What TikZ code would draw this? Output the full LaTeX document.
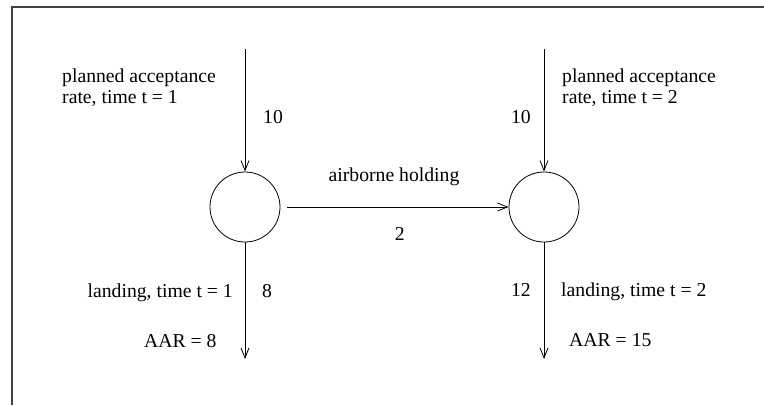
\documentclass[tikz,border=0pt]{standalone}
\usepackage{fontspec}
\setmainfont{Liberation Serif}
\usepackage{tikz}
\usetikzlibrary{arrows.meta, positioning}
\tikzset{
  place/.style={circle, draw=black, minimum size=70pt, inner sep=0pt, line width=0.8pt},
  txt/.style={inner sep=0pt, font=\fontsize{19.7}{20.7}\selectfont},
  arrowline/.style={-{Straight Barb[length=10pt, width=8pt, line width=0.8pt]}, line width=0.8pt},
}

\begin{document}
\begin{tikzpicture}[x=1pt, y=-1pt]
\useasboundingbox (0,0) rectangle (764,405);
\draw[black!75, line width=1.3pt] (12,405) -- (12,7) -- (764,7);

\node[place] (n1) at (245,207) {};
\node[place] (n2) at (544,207) {};

\coordinate (in1) at (245,49);
\coordinate (in2) at (544,49);
\coordinate (out1) at (245,359);
\coordinate (out2) at (544,359);

\node[txt, anchor=base west, align=left] (plan1) at (62,103.3) {planned acceptance\\rate, time t = 1};
\node[txt, anchor=base west, align=left] (plan2) at (562,103.3) {planned acceptance\\rate, time t = 2};
\node[txt, anchor=base west] (f1) at (263,123.3) {10};
\node[txt, anchor=base east] (f2) at (531,123.3) {10};

\node[txt, anchor=base] (hold) at (394,181.7) {airborne holding};
\node[txt, anchor=base] (fh) at (399.7,240) {2};

\node[txt, anchor=base east] (land1) at (233,297.5) {landing, time t = 1};
\node[txt, anchor=base west] (fl1) at (262,297.5) {8};
\node[txt, anchor=base east] (fl2) at (531,296.7) {12};
\node[txt, anchor=base west] (land2) at (561,296.7) {landing, time t = 2};

\node[txt, anchor=base west] (aar1) at (144,347.7) {AAR = 8};
\node[txt, anchor=base west] (aar2) at (569,346.7) {AAR = 15};

\draw[arrowline] (in1) -- (n1);
\draw[arrowline] (in2) -- (n2);
\draw[arrowline] ([xshift=7pt]n1.east) -- (n2);
\draw[arrowline] (n1) -- (out1);
\draw[arrowline] (n2) -- (out2);
\end{tikzpicture}
\end{document}
